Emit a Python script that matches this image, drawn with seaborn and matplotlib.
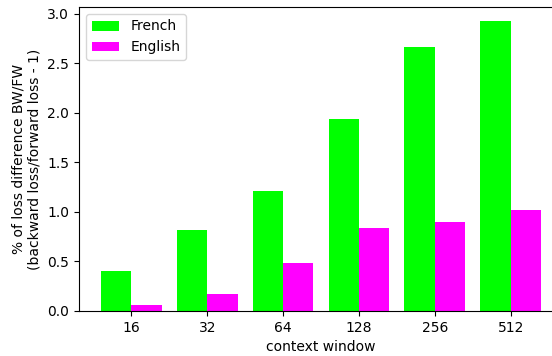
import matplotlib
matplotlib.use("Agg")
import matplotlib.pyplot as plt
import seaborn as sns
import pandas as pd

context_windows = ["16", "32", "64", "128", "256", "512"]
french = [0.40, 0.82, 1.21, 1.94, 2.66, 2.92]
english = [0.06, 0.17, 0.48, 0.84, 0.90, 1.02]

df = pd.DataFrame({
    "context window": context_windows * 2,
    "value": french + english,
    "language": ["French"] * len(french) + ["English"] * len(english),
})

fig = plt.figure(figsize=(5.52, 3.56), dpi=100)
# axes run slightly past the right edge of the canvas
ax = fig.add_axes([79 / 552, (356 - 311) / 356, (563 - 79) / 552, (311 - 7) / 356])

sns.barplot(
    data=df, x="context window", y="value", hue="language",
    order=context_windows, hue_order=["French", "English"],
    palette={"French": "#00ff00", "English": "#ff00ff"},
    saturation=1, width=0.8, ax=ax, errorbar=None,
)

ax.set_xlim(-0.69, 5.69)
ax.spines["right"].set_visible(False)
ax.set_xlabel("context window")
ax.set_ylabel("% of loss difference BW/FW\n(backward loss/forward loss - 1)")
ax.legend(loc="upper left")

fig.savefig("out.png", dpi=100)
